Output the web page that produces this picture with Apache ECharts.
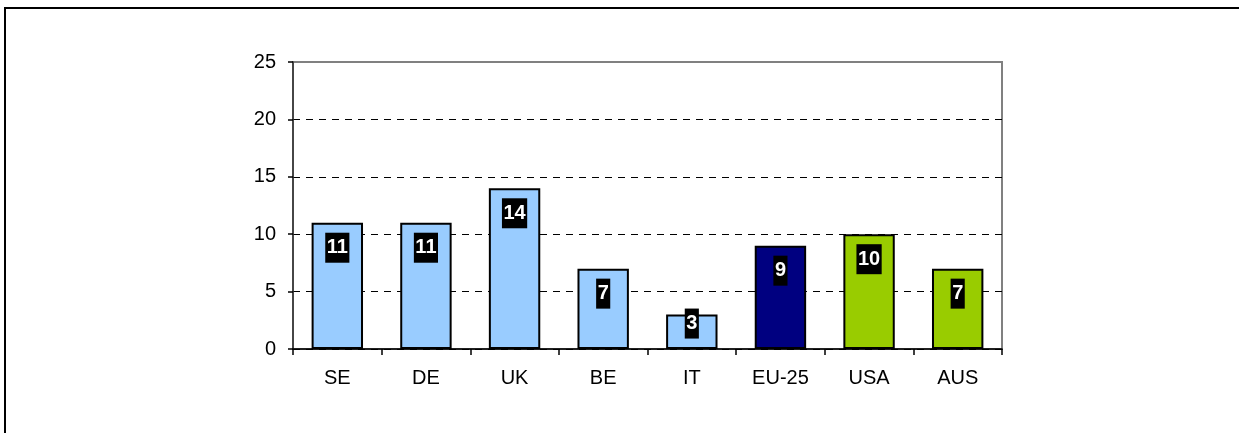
<!DOCTYPE html>
<html>
<head>
<meta charset="utf-8">
<style>
  html, body { margin: 0; padding: 0; background: #fff; }
  #frame { position: absolute; left: 4px; top: 7px; right: 0; bottom: 0;
           border-top: 2px solid #000; border-left: 2px solid #000; }
  #chart { position: absolute; left: 0; top: 0; width: 1239px; height: 433px; }
</style>
<script src="https://cdn.jsdelivr.net/npm/echarts@6/dist/echarts.min.js"></script>
</head>
<body>
<div id="frame"></div>
<div id="chart"></div>
<script>
// Category names along the x axis
const categories = ['SE', 'DE', 'UK', 'BE', 'IT', 'EU-25', 'USA', 'AUS'];
// Bar values
const values = [11, 11, 14, 7, 3, 9, 10, 7];
// Group of each bar: member state, EU average, or non-EU comparison
const groups = ['member', 'member', 'member', 'member', 'member', 'eu', 'other', 'other'];
// Y axis tick values
const yTicks = [0, 5, 10, 15, 20, 25];

const groupColor = { member: '#99CCFF', eu: '#000080', other: '#99CC00' };
const FONT = '"Liberation Sans", Arial, sans-serif';

const barData = values.map((v, i) => {
  const item = { value: v, itemStyle: { color: groupColor[groups[i]] } };
  // short bar: label sits higher, overlapping the bar top
  if (v < 5) item.label = { distance: -6 };
  return item;
});

// dashed grid lines everywhere except the top edge, which is the grey plot border
const splitColors = yTicks.map((t, i) => (i === yTicks.length - 1 ? 'rgba(0,0,0,0)' : '#000'));

const chart = echarts.init(document.getElementById('chart'), null, { renderer: 'canvas' });
chart.setOption({
  animation: false,
  backgroundColor: 'transparent',
  grid: {
    left: 293, right: 237, top: 62, bottom: 84, containLabel: false,
    show: true, borderColor: '#808080', borderWidth: 2, backgroundColor: 'transparent'
  },
  xAxis: {
    type: 'category',
    data: categories,
    boundaryGap: true,
    axisLine: { lineStyle: { color: '#000', width: 1.5 } },
    axisTick: { show: true, alignWithLabel: false, length: 6, lineStyle: { color: '#000', width: 1.5 } },
    axisLabel: { color: '#000', fontSize: 20, fontFamily: FONT, margin: 19 }
  },
  yAxis: {
    type: 'value',
    min: yTicks[0],
    max: yTicks[yTicks.length - 1],
    interval: yTicks[1] - yTicks[0],
    axisLine: { show: true, lineStyle: { color: '#333', width: 1.5 } },
    axisTick: { show: true, length: 5, lineStyle: { color: '#000', width: 1.5 } },
    axisLabel: { color: '#000', fontSize: 20, fontFamily: FONT, margin: 17 },
    splitLine: { show: true, lineStyle: { color: splitColors, width: 1, type: [7, 6] } }
  },
  series: [{
    type: 'bar',
    data: barData,
    barWidth: '58%',
    itemStyle: { borderColor: '#000', borderWidth: 2 },
    label: {
      show: true,
      position: 'insideTop',
      distance: 10,
      color: '#fff',
      fontSize: 20,
      fontWeight: 'bold',
      fontFamily: FONT,
      lineHeight: 20,
      backgroundColor: '#000',
      padding: [5, 1.5, 5, 1.5]
    }
  }]
});
</script>
</body>
</html>
